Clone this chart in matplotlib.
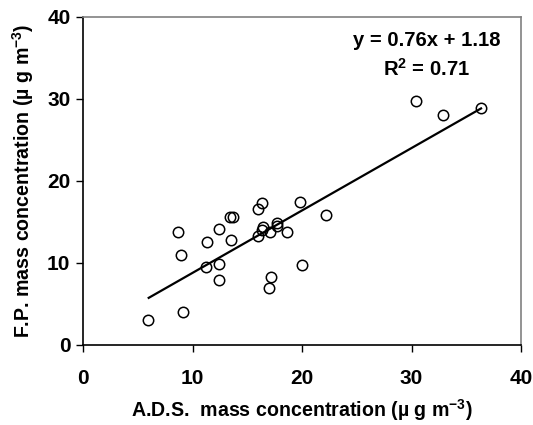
import matplotlib
matplotlib.use("Agg")
import matplotlib.pyplot as plt
import numpy as np

plt.rcParams['font.family'] = ['Liberation Sans', 'DejaVu Sans']
plt.rcParams['font.weight'] = 'bold'
plt.rcParams['mathtext.fontset'] = 'custom'
plt.rcParams['mathtext.rm'] = 'Liberation Sans:bold'
plt.rcParams['mathtext.it'] = 'Liberation Sans:bold'
plt.rcParams['mathtext.bf'] = 'Liberation Sans:bold'
plt.rcParams['mathtext.default'] = 'rm'

ads = [5.96, 9.1, 8.65, 8.98, 11.3, 11.2, 12.4, 12.4, 12.4, 13.45, 13.7, 13.5,
       16.0, 16.35, 16.4, 16.35, 15.95, 17.1, 17.7, 17.7, 18.6, 17.2, 17.0,
       19.8, 20.0, 22.2, 30.4, 32.9, 36.35]
fp = [3.0, 4.0, 13.7, 11.0, 12.5, 9.5, 14.1, 9.9, 7.9, 15.6, 15.6, 12.75,
      16.5, 17.3, 14.4, 14.0, 13.3, 13.75, 14.9, 14.5, 13.7, 8.3, 6.95,
      17.45, 9.76, 15.85, 29.75, 27.96, 28.85]
slope = 0.76
intercept = 1.18
fit_x = [6.0, 36.35]
eq_text = "y = 0.76x + 1.18"
r2_text = "R$^2$ = 0.71"
xticks = [0, 10, 20, 30, 40]
yticks = [0, 10, 20, 30, 40]

fig = plt.figure(figsize=(5.33, 4.25), dpi=100)
ax = fig.add_axes([83/533, 80/425, 438/533, 328.5/425])

ax.plot(ads, fp, 'o', mfc='none', mec='black', ms=7.5, mew=1.1, zorder=3)
fx = np.array(fit_x)
ax.plot(fx, slope*fx + intercept, color='black', lw=1.6, zorder=2)

ax.set_xlim(0, 40)
ax.set_ylim(0, 40)
ax.set_xticks(xticks)
ax.set_yticks(yticks)
ax.tick_params(direction='out', length=5, width=1, labelsize=15)
ax.tick_params(axis='x', pad=12)
ax.tick_params(axis='y', pad=4)
for lab in ax.get_xticklabels() + ax.get_yticklabels():
    lab.set_fontweight('bold')

for s in ['left', 'bottom']:
    ax.spines[s].set_color('black')
    ax.spines[s].set_linewidth(1.2)
for s in ['top', 'right']:
    ax.spines[s].set_color('#808080')
    ax.spines[s].set_linewidth(1.2)

ax.set_xlabel("A.D.S.  mass concentration (\u00b5 g m$^{-3}$)", fontsize=14.1, fontweight='bold', labelpad=7)
ax.set_ylabel("F.P. mass concentration (\u00b5 g m$^{-3}$)", fontsize=14.1, fontweight='bold', labelpad=8)

ax.text(0.785, 0.927, eq_text, transform=ax.transAxes, ha='center', va='center', fontsize=14.6, fontweight='bold')
ax.text(0.785, 0.84, r2_text, transform=ax.transAxes, ha='center', va='center', fontsize=14.6, fontweight='bold')

fig.savefig("out.png", dpi=100)
